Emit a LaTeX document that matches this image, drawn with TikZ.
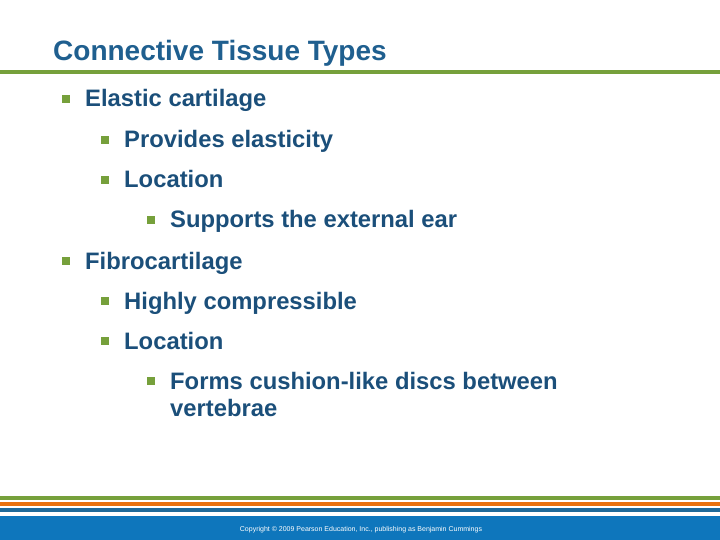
\documentclass[tikz,border=0pt]{standalone}
\usepackage{fontspec}
\setmainfont{Liberation Sans}
\definecolor{tblue}{HTML}{1F5F8F}
\definecolor{bblue}{HTML}{1B4F7A}
\definecolor{sgreen}{HTML}{76A03B}
\definecolor{sorange}{HTML}{E8710F}
\definecolor{sblue}{HTML}{1F6A9A}
\definecolor{band}{HTML}{0E76BC}
\begin{document}
\begin{tikzpicture}[x=1pt,y=-1pt,
  txt/.style={anchor=base west,inner sep=0,text=bblue,font=\bfseries\fontsize{23.8}{28}\selectfont},
  bul/.style={fill=sgreen,minimum size=7.5pt,inner sep=0}]
\useasboundingbox (0,0) rectangle (720,540);
\node[anchor=base west,inner sep=0,text=tblue,font=\bfseries\fontsize{28}{32}\selectfont] (title) at (53,61) {Connective Tissue Types};
\fill[sgreen] (0,70) rectangle (720,74);
\foreach \n/\x/\y/\t in {a/85/107/Elastic cartilage, b/124/148/Provides elasticity, c/124/188/Location, d/170/228/Supports the external ear, e/85/269/Fibrocartilage, f/124/309/Highly compressible, g/124/349/Location, h/170/389/Forms cushion-like discs between}{
  \node[txt] (\n) at (\x,\y) {\t};
  \node[bul] (b\n) at (\x-19,\y-8) {};
}
\node[txt] (h2) at (170,416) {vertebrae};
\fill[sgreen] (0,495.5) rectangle (720,500);
\fill[sorange] (0,501.5) rectangle (720,506);
\fill[sblue] (0,507.5) rectangle (720,512);
\fill[band] (0,516) rectangle (720,540);
\node[text=white,font=\fontsize{7}{8}\selectfont,inner sep=0] (copy) at (361,530) {Copyright © 2009 Pearson Education, Inc., publishing as Benjamin Cummings};
\end{tikzpicture}
\end{document}
